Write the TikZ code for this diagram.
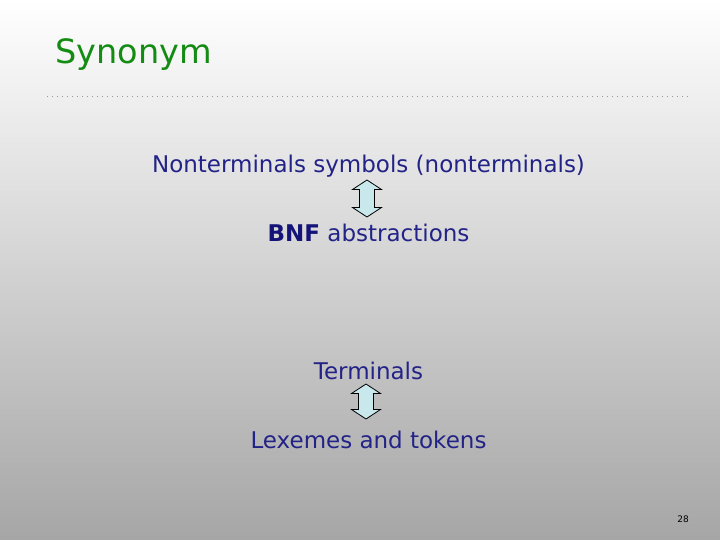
\documentclass[tikz,border=0pt]{standalone}
\usepackage{fontspec}
\setmainfont{DejaVu Sans}
\definecolor{titlegreen}{RGB}{20,140,20}
\definecolor{bodynavy}{RGB}{35,35,135}
\definecolor{bnfnavy}{RGB}{20,20,120}
\definecolor{arrowfill}{RGB}{200,232,236}
\tikzset{
  body/.style={text=bodynavy,font=\fontsize{23}{27}\selectfont,inner sep=0pt,anchor=base},
  updown/.style={draw=black,line width=0.8pt,fill=arrowfill,line join=miter}
}
% #1 centre x, #2 top y, #3 bottom y
\newcommand\UpDownArrow[3]{%
  \path[updown] (#1,#2) -- ({#1+14.5},{#2+9.5}) -- ({#1+7.5},{#2+9.5}) -- ({#1+7.5},{#3-9.5})
    -- ({#1+14.5},{#3-9.5}) -- (#1,#3) -- ({#1-14.5},{#3-9.5}) -- ({#1-7.5},{#3-9.5})
    -- ({#1-7.5},{#2+9.5}) -- ({#1-14.5},{#2+9.5}) -- cycle;}
\begin{document}
\begin{tikzpicture}[x=1pt,y=-1pt]
\shade[top color=white,bottom color=black!35,shading angle=0] (0,0) rectangle (720,540);
\useasboundingbox (0,0) rectangle (720,540);
\node[anchor=base west,inner sep=0pt,text=titlegreen,font=\fontsize{33.5}{38}\selectfont] (title) at (55,64) {Synonym};
\draw[line width=0.6pt,black!40,dash pattern=on 0.6pt off 4.4pt] (47,96) -- (690,96);
\node[body] (nt) at (368.5,173) {Nonterminals symbols (nonterminals)};
\node[body] (bnf) at (368.5,241) {\textcolor{bnfnavy}{\textbf{BNF}} abstractions};
\node[body] (term) at (368.5,379) {Terminals};
\node[body] (lex) at (368.5,448) {Lexemes and tokens};
\UpDownArrow{367}{180}{217}
\UpDownArrow{366}{384}{419}
\node[anchor=base,inner sep=0pt,font=\fontsize{9}{10}\selectfont] (pg) at (683,522) {28};
\end{tikzpicture}
\end{document}
